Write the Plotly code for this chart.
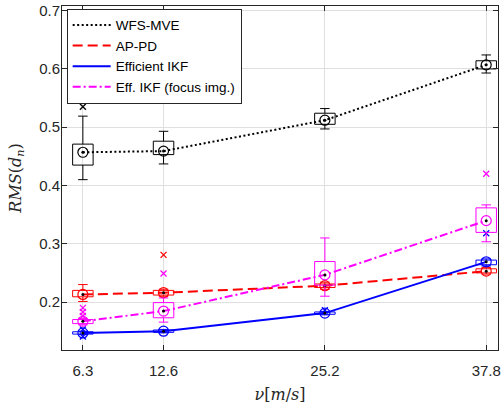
import plotly.graph_objects as go

x_vals = [6.3, 12.6, 25.2, 37.8]
x_tick_labels = ["6.3", "12.6", "25.2", "37.8"]
y_ticks = [0.2, 0.3, 0.4, 0.5, 0.6, 0.7]

names = ["WFS-MVE", "AP-PD", "Efficient IKF", "Eff. IKF (focus img.)"]

wfs_median = [0.457, 0.459, 0.512, 0.607]
wfs_q1 = [0.435, 0.453, 0.505, 0.600]
wfs_q3 = [0.471, 0.476, 0.524, 0.614]
wfs_lo = [0.410, 0.437, 0.497, 0.593]
wfs_hi = [0.519, 0.493, 0.532, 0.624]
wfs_out_x = [6.3]
wfs_out_y = [0.535]

ap_median = [0.213, 0.216, 0.228, 0.253]
ap_q1 = [0.209, 0.212, 0.225, 0.250]
ap_q3 = [0.220, 0.220, 0.231, 0.257]
ap_lo = [0.201, 0.210, 0.222, 0.248]
ap_hi = [0.230, 0.222, 0.234, 0.259]
ap_out_x = [12.6]
ap_out_y = [0.281]

ikf_median = [0.147, 0.150, 0.181, 0.269]
ikf_q1 = [0.145, 0.148, 0.179, 0.264]
ikf_q3 = [0.149, 0.152, 0.183, 0.272]
ikf_lo = [0.144, 0.147, 0.178, 0.262]
ikf_hi = [0.150, 0.153, 0.184, 0.274]
ikf_out_x = [6.3, 6.3, 25.2, 37.8]
ikf_out_y = [0.153, 0.141, 0.186, 0.318]

foc_median = [0.167, 0.1845, 0.2466, 0.3397]
foc_q1 = [0.163, 0.173, 0.229, 0.3195]
foc_q3 = [0.170, 0.199, 0.2695, 0.3616]
foc_lo = [0.161, 0.1655, 0.210, 0.3034]
foc_hi = [0.172, 0.207, 0.310, 0.3667]
foc_out_x = [6.3, 6.3, 6.3, 12.6, 37.8]
foc_out_y = [0.190, 0.183, 0.176, 0.249, 0.420]

series = [
    (names[0], "#000000", "2px,2.5px", wfs_median, wfs_q1, wfs_q3, wfs_lo, wfs_hi, wfs_out_x, wfs_out_y),
    (names[1], "#ff0000", "10px,5px", ap_median, ap_q1, ap_q3, ap_lo, ap_hi, ap_out_x, ap_out_y),
    (names[2], "#0000ff", "solid", ikf_median, ikf_q1, ikf_q3, ikf_lo, ikf_hi, ikf_out_x, ikf_out_y),
    (names[3], "#ff00ff", "8px,3px,2px,3px", foc_median, foc_q1, foc_q3, foc_lo, foc_hi, foc_out_x, foc_out_y),
]

BOX_HALF = 0.8
CAP_HALF = 0.37

fig = go.Figure()

# legend lines first
for name, col, dash, med, q1, q3, lo, hi, ox, oy in series:
    fig.add_trace(go.Scatter(x=x_vals, y=med, mode="lines", name=name,
                             line=dict(color=col, width=2, dash=dash)))

for name, col, dash, med, q1, q3, lo, hi, ox, oy in series:
    bx, by = [], []
    for xv, a, b, l, h in zip(x_vals, q1, q3, lo, hi):
        bx += [xv - BOX_HALF, xv + BOX_HALF, xv + BOX_HALF, xv - BOX_HALF, xv - BOX_HALF, None]
        by += [a, a, b, b, a, None]
        bx += [xv, xv, None, xv, xv, None]
        by += [b, h, None, a, l, None]
        bx += [xv - CAP_HALF, xv + CAP_HALF, None, xv - CAP_HALF, xv + CAP_HALF, None]
        by += [h, h, None, l, l, None]
    fig.add_trace(go.Scatter(x=bx, y=by, mode="lines", showlegend=False, hoverinfo="skip",
                             line=dict(color=col, width=1)))
    fig.add_trace(go.Scatter(x=ox, y=oy, mode="markers", showlegend=False,
                             marker=dict(symbol="x-thin-open", size=6, color=col,
                                         line=dict(color=col, width=1.3))))
    fig.add_trace(go.Scatter(x=x_vals, y=med, mode="markers", showlegend=False,
                             marker=dict(symbol="circle-open", size=10, color=col,
                                         line=dict(color=col, width=1.2))))
    fig.add_trace(go.Scatter(x=x_vals, y=med, mode="markers", showlegend=False,
                             marker=dict(symbol="circle", size=3, color="#000000")))

axis_col = "#262626"
fig.update_layout(
    width=502, height=404,
    margin=dict(l=62, r=1, t=6, b=54),
    plot_bgcolor="white", paper_bgcolor="white",
    font=dict(family="Liberation Sans, Arial, sans-serif", size=15, color=axis_col),
    showlegend=True,
    legend=dict(x=0.0107, y=0.992, xanchor="left", yanchor="top",
                bgcolor="white", bordercolor="#262626", borderwidth=1,
                font=dict(size=13.5, color="#000000"), tracegroupgap=0,
                itemwidth=38),
    xaxis=dict(range=[4.67, 38.72], tickvals=x_vals, ticktext=x_tick_labels,
               showgrid=True, gridcolor="#dfdfdf", gridwidth=1,
               zeroline=False, showline=True, linecolor=axis_col, linewidth=1,
               mirror="ticks", ticks="inside", ticklen=5, tickcolor=axis_col,
               tickfont=dict(size=15, color=axis_col), ticklabelstandoff=7,
               ticklabeloverflow="allow",
               title=dict(text="<i>ν</i>[<i>m</i>/<i>s</i>]",
                          font=dict(family="DejaVu Serif, Liberation Serif, serif", size=16, color=axis_col),
                          standoff=12)),
    yaxis=dict(range=[0.1177, 0.708], tickvals=y_ticks,
               tickformat=".1f",
               showgrid=True, gridcolor="#dfdfdf", gridwidth=1,
               zeroline=False, showline=True, linecolor=axis_col, linewidth=1,
               mirror="ticks", ticks="inside", ticklen=5, tickcolor=axis_col,
               tickfont=dict(size=15, color=axis_col), ticklabelstandoff=-2,
               title=dict(text="<i>RMS</i>(<i>d<sub>n</sub></i>)",
                          font=dict(family="DejaVu Serif, Liberation Serif, serif", size=16, color=axis_col),
                          standoff=13)),
)

fig.write_html("out.html", config={"displayModeBar": False},
               post_script="document.body.style.margin='0px';")
